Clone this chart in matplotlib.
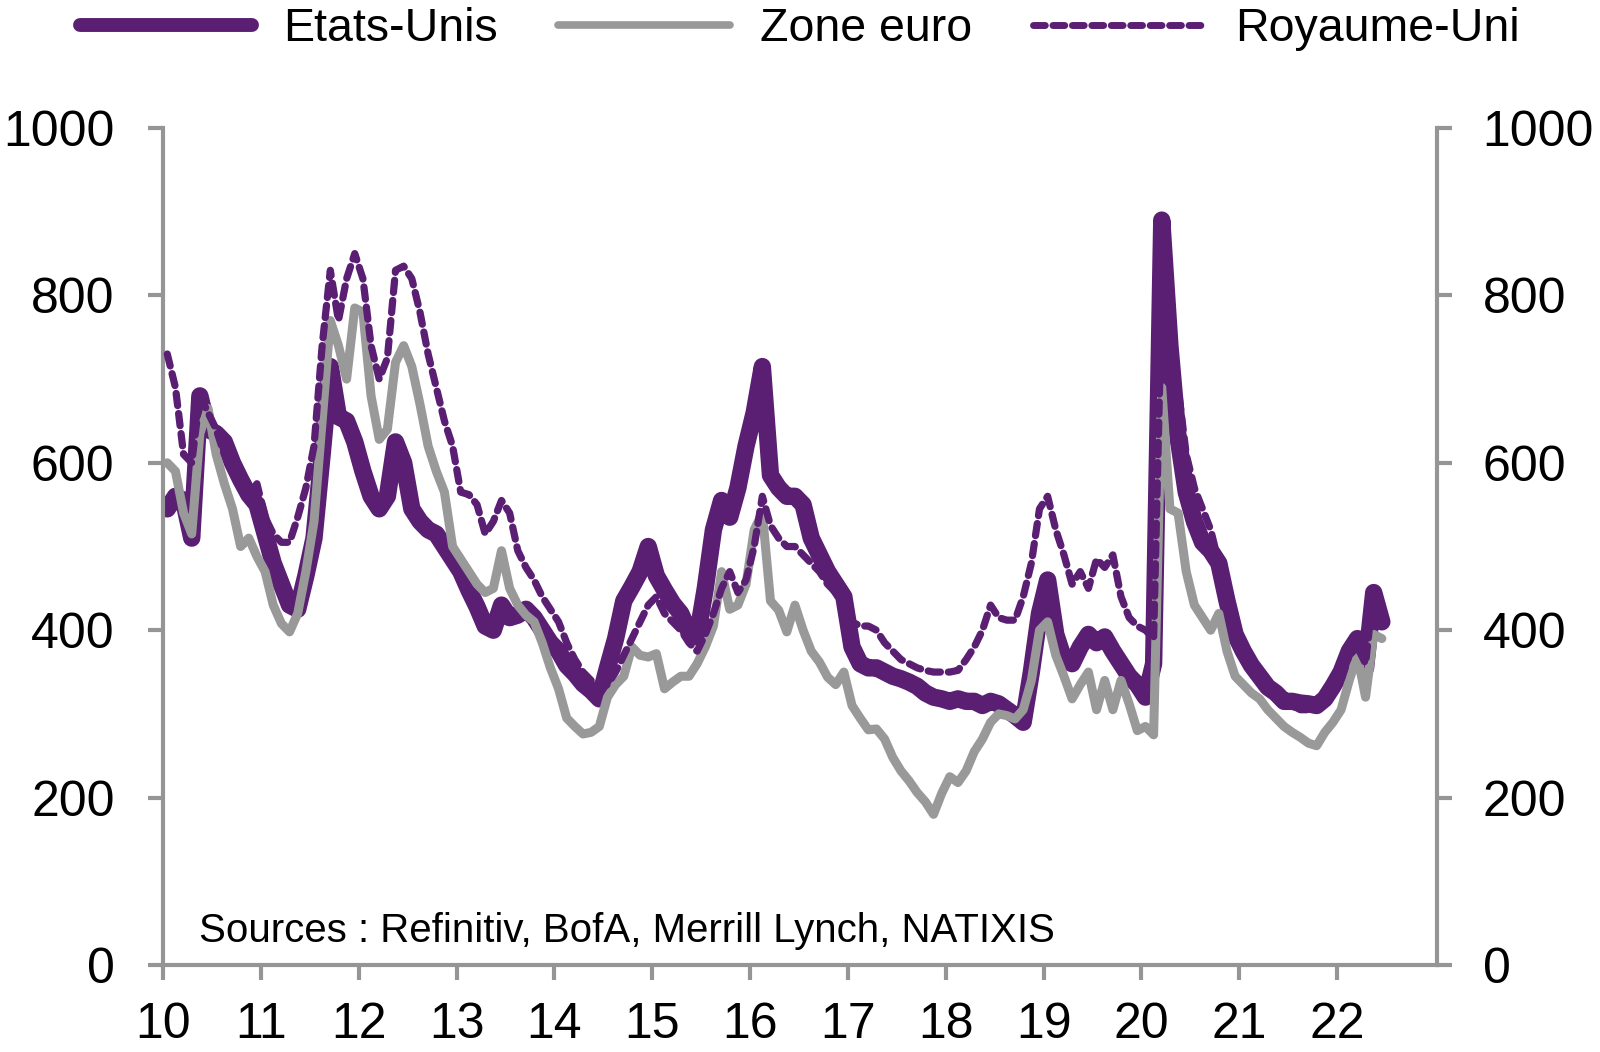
import numpy as np
import matplotlib
matplotlib.use("Agg")
import matplotlib.pyplot as plt
from matplotlib.lines import Line2D

plt.rcParams['font.family'] = ['Liberation Sans', 'DejaVu Sans']

# monthly values, Jan 2010 .. Jun 2022
etats_unis = [
    545, 560, 555, 510, 680, 640, 635, 625, 600, 580, 562, 550,
    515, 480, 455, 430, 425, 465, 510, 610, 715, 655, 650, 625,
    590, 560, 545, 560, 625, 600, 545, 530, 520, 515, 500, 485,
    470, 448, 428, 405, 400, 430, 415, 418, 425, 415, 400, 385,
    375, 358, 348, 336, 328, 318, 355, 390, 435, 452, 470, 500,
    465, 448, 432, 420, 398, 392, 450, 520, 555, 535, 570, 620,
    660, 715, 585, 570, 560, 560, 550, 510, 490, 470, 455, 440,
    380, 360, 355, 355, 350, 345, 342, 338, 333, 325, 320, 318,
    315, 318, 315, 315, 310, 315, 312, 305, 298, 290, 350, 420,
    460, 395, 365, 360, 380, 395, 385, 392, 375, 360, 345, 335,
    320, 360, 890, 740, 630, 565, 530, 505, 495, 480, 435, 395,
    375, 358, 345, 332, 325, 315, 315, 313, 312, 310, 318, 333,
    350, 375, 390, 355, 445, 410,
]
zone_euro = [
    600, 590, 540, 515, 635, 665, 610, 575, 545, 500, 510, 488,
    470, 430, 408, 398, 420, 470, 530, 650, 770, 740, 700, 785,
    780, 680, 628, 640, 720, 740, 715, 670, 620, 590, 565, 500,
    485, 470, 455, 445, 450, 495, 450, 430, 418, 410, 385, 355,
    330, 295, 285, 276, 278, 285, 320, 335, 345, 380, 370, 368,
    372, 330, 338, 345, 345, 360, 380, 405, 470, 425, 430, 455,
    520, 540, 435, 424, 398, 430, 400, 375, 362, 344, 335, 350,
    310, 295, 281, 282, 270, 248, 232, 220, 206, 195, 180, 205,
    225, 218, 232, 255, 270, 290, 300, 298, 294, 305, 340, 400,
    410, 370, 345, 318, 335, 350, 305, 340, 305, 340, 312, 280,
    285, 275, 690, 545, 540, 470, 430, 415, 400, 420, 375, 345,
    335, 325, 318, 305, 295, 285, 278, 272, 265, 262, 278, 290,
    305, 340, 370, 320, 395, 390,
]
royaume_uni = [
    730, 690, 610, 600, 680, 660, 640, 610, 595, 580, 562, 575,
    535, 515, 505, 505, 535, 570, 620, 740, 830, 770, 820, 850,
    820, 740, 700, 725, 830, 835, 820, 780, 730, 690, 650, 620,
    565, 562, 550, 515, 530, 555, 540, 495, 475, 460, 440, 425,
    410, 385, 365, 350, 340, 330, 335, 350, 370, 390, 410, 430,
    440, 420, 410, 400, 385, 375, 395, 420, 450, 470, 445, 460,
    500, 560, 525, 510, 500, 500, 490, 480, 470, 455, 445, 435,
    410, 405, 405, 400, 385, 375, 365, 360, 355, 352, 350, 350,
    350, 352, 365, 380, 400, 430, 415, 412, 412, 440, 480, 545,
    560, 520, 490, 455, 470, 450, 485, 475, 490, 440, 415, 405,
    400, 390, 800, 740, 690, 610, 570, 545, 520, 480, 430, 390,
    385, 355, 340, 330, 320, 315, 310, 305, 305, 310, 320, 325,
    340, 370, 380, 360, 450, 430,
]
year_ticks = list(range(10, 23))
y_ticks = [0, 200, 400, 600, 800, 1000]
source_note = "Sources : Refinitiv, BofA, Merrill Lynch, NATIXIS"

purple = '#5a1e73'
grey = '#999999'
spine_grey = '#959595'
uk_dash = (0, (1.7, 1.1))

# mid-month positions, years as 10, 11, ...
t = 10 + (np.arange(len(etats_unis)) + 0.5) / 12

fig = plt.figure(figsize=(16, 10.52), dpi=100)
ax = fig.add_axes([0.102, 0.0827, 0.796, 0.7956])

ax.plot(t, etats_unis, color=purple, lw=12.5, solid_joinstyle='round',
        solid_capstyle='round', zorder=2)
ax.plot(t, zone_euro, color=grey, lw=6.5, solid_joinstyle='round',
        solid_capstyle='round', zorder=3)
ax.plot(t, royaume_uni, color=purple, lw=5.2, linestyle=uk_dash,
        dash_capstyle='round', dash_joinstyle='round', zorder=4)

ax.set_xlim(10, 23.02)
ax.set_ylim(0, 1000)
ax.set_xticks(year_ticks)
ax.set_xticklabels([str(y) for y in year_ticks])
ax.set_yticks(y_ticks)

ax2 = ax.twinx()
ax2.set_ylim(0, 1000)
ax2.set_yticks(y_ticks)

for a in (ax, ax2):
    for s in a.spines.values():
        s.set_visible(False)
        s.set_color(spine_grey)
        s.set_linewidth(3)
ax.spines['left'].set_visible(True)
ax.spines['bottom'].set_visible(True)
ax2.spines['right'].set_visible(True)

ax.tick_params(axis='y', direction='out', length=11, width=3,
               color=spine_grey, labelsize=36, pad=24)
ax.tick_params(axis='x', direction='out', length=11, width=3,
               color=spine_grey, labelsize=36, pad=16)
ax2.tick_params(axis='y', direction='out', length=11, width=3,
                color=spine_grey, labelsize=36, pad=22)

ax.text(0.028, 0.041, source_note, transform=ax.transAxes,
        fontsize=29, ha='left', va='center')

handles = [
    Line2D([], [], color=purple, lw=10, solid_capstyle='round'),
    Line2D([], [], color=grey, lw=5.5, solid_capstyle='round'),
    Line2D([], [], color=purple, lw=5, linestyle=uk_dash, dash_capstyle='round'),
]
labels = ['Etats-Unis', 'Zone euro', 'Royaume-Uni']
fig.legend(handles, labels, loc='upper center', bbox_to_anchor=(0.5, 1.02),
           ncol=3, frameon=False, fontsize=33.5, handlelength=3.7,
           handletextpad=0.65, columnspacing=1.3, borderpad=0.1)

fig.savefig('out.png', dpi=100)
